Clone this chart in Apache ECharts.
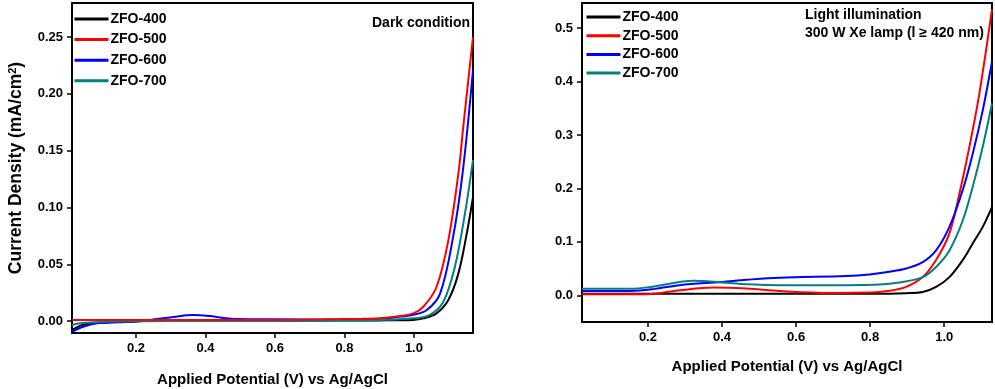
<!DOCTYPE html>
<html>
<head>
<meta charset="utf-8">
<script src="https://cdn.jsdelivr.net/npm/echarts@6/dist/echarts.min.js"></script>
<style>
html,body{margin:0;padding:0;background:#fff;}
#c{width:995px;height:389px;}
</style>
</head>
<body>
<div id="c"></div>
<script>
// ---------- data ----------
const seriesNames = ['ZFO-400', 'ZFO-500', 'ZFO-600', 'ZFO-700'];
const seriesColors = ['#000000', '#ff0000', '#0000ff', '#008080'];

const xTicks = [0.2, 0.4, 0.6, 0.8, 1.0];
const darkYTicks = [0, 0.05, 0.10, 0.15, 0.20, 0.25];
const lightYTicks = [0, 0.1, 0.2, 0.3, 0.4, 0.5];

// Dark condition (left panel)
const dark400X = [0.016, 0.04, 0.07, 0.12, 0.2, 0.4, 0.6, 0.8, 0.9, 0.95, 0.998, 1.027, 1.065, 1.099, 1.128, 1.152, 1.17];
const dark400Y = [-0.008, -0.004, -0.002, -0.001, 0, 0.0005, 0.0005, 0.0005, 0.0006, 0.0007, 0.001, 0.0024, 0.0068, 0.0185, 0.042, 0.077, 0.109];
const dark500X = [0.016, 0.1, 0.2, 0.4, 0.6, 0.75, 0.85, 0.902, 0.95, 0.998, 1.027, 1.065, 1.099, 1.128, 1.142, 1.17];
const dark500Y = [0.001, 0.001, 0.001, 0.001, 0.001, 0.0015, 0.002, 0.0024, 0.004, 0.0068, 0.0126, 0.030, 0.071, 0.130, 0.171, 0.250];
const dark600X = [0.016, 0.048, 0.087, 0.155, 0.2, 0.25, 0.298, 0.365, 0.413, 0.442, 0.49, 0.577, 0.8, 0.9, 0.95, 0.998, 1.037, 1.075, 1.111, 1.140, 1.17];
const dark600Y = [-0.0094, -0.005, -0.002, -0.001, -0.0006, 0.0015, 0.0032, 0.0053, 0.0044, 0.0032, 0.0018, 0.0015, 0.0012, 0.002, 0.0035, 0.0055, 0.0097, 0.024, 0.071, 0.130, 0.221];
const dark700X = [0.016, 0.04, 0.08, 0.15, 0.3, 0.6, 0.8, 0.9, 0.998, 1.046, 1.084, 1.118, 1.147, 1.17];
const dark700Y = [-0.0035, -0.002, -0.001, -0.0003, 0, 0, 0.0005, 0.001, 0.0024, 0.0055, 0.0165, 0.048, 0.095, 0.142];

// Light illumination (right panel)
const light400X = [0.022, 0.2, 0.4, 0.6, 0.8, 0.897, 0.942, 0.978, 1.014, 1.050, 1.077, 1.104, 1.129];
const light400Y = [0.003, 0.003, 0.003, 0.003, 0.003, 0.004, 0.006, 0.0156, 0.034, 0.066, 0.097, 0.128, 0.165];
const light500X = [0.022, 0.1, 0.197, 0.286, 0.376, 0.466, 0.556, 0.696, 0.8, 0.852, 0.897, 0.942, 0.978, 1.014, 1.041, 1.068, 1.095, 1.129];
const light500Y = [0.002, 0.002, 0.002, 0.0094, 0.0144, 0.0125, 0.008, 0.0045, 0.005, 0.0085, 0.0156, 0.034, 0.066, 0.116, 0.190, 0.278, 0.378, 0.535];
const light600X = [0.022, 0.152, 0.22, 0.286, 0.4, 0.466, 0.556, 0.736, 0.798, 0.852, 0.897, 0.942, 0.978, 1.014, 1.050, 1.077, 1.104, 1.129];
const light600Y = [0.008, 0.008, 0.012, 0.019, 0.025, 0.029, 0.033, 0.036, 0.039, 0.044, 0.050, 0.062, 0.084, 0.128, 0.197, 0.265, 0.346, 0.437];
const light700X = [0.022, 0.152, 0.22, 0.322, 0.4, 0.466, 0.556, 0.736, 0.825, 0.879, 0.942, 0.978, 1.014, 1.050, 1.077, 1.104, 1.129];
const light700Y = [0.012, 0.012, 0.017, 0.027, 0.024, 0.0206, 0.019, 0.019, 0.020, 0.024, 0.034, 0.053, 0.084, 0.140, 0.203, 0.278, 0.359];

// ---------- build ----------
const FONT = '"Liberation Sans", Arial, sans-serif';
function pairs(xs, ys) { return xs.map((x, i) => [x, ys[i]]); }

const darkData = [pairs(dark400X, dark400Y), pairs(dark500X, dark500Y), pairs(dark600X, dark600Y), pairs(dark700X, dark700Y)];
const lightData = [pairs(light400X, light400Y), pairs(light500X, light500Y), pairs(light600X, light600Y), pairs(light700X, light700Y)];

function xAxis(gi, min, max, gap) {
  return {
    type: 'value', gridIndex: gi, min: min, max: max,
    name: 'Applied Potential (V) vs Ag/AgCl', nameLocation: 'middle', nameGap: gap,
    nameTextStyle: { fontFamily: FONT, fontWeight: 'bold', fontSize: 15, color: '#000' },
    axisLine: { onZero: false, lineStyle: { color: '#000', width: 2 } },
    axisTick: { customValues: xTicks, length: 5, lineStyle: { color: '#000', width: 1.5 } },
    axisLabel: { customValues: xTicks, margin: 9, fontFamily: FONT, fontWeight: 'bold', fontSize: 13, color: '#000',
      formatter: v => v.toFixed(1) },
    splitLine: { show: false }
  };
}
function yAxis(gi, min, max, ticks, dec, name) {
  return {
    type: 'value', gridIndex: gi, min: min, max: max,
    name: name, nameLocation: 'middle', nameGap: 46,
    nameTextStyle: { fontFamily: FONT, fontWeight: 'bold', fontSize: 17.5, color: '#000',
      rich: { sup: { fontFamily: FONT, fontWeight: 'bold', fontSize: 11, color: '#000', verticalAlign: 'top', padding: [0, 0, 8, 0] } } },
    axisLine: { onZero: false, lineStyle: { color: '#000', width: 2 } },
    axisTick: { customValues: ticks, length: 5, lineStyle: { color: '#000', width: 1.5 } },
    axisLabel: { customValues: ticks, margin: 9, fontFamily: FONT, fontWeight: 'bold', fontSize: 13, color: '#000',
      formatter: v => v.toFixed(dec) },
    splitLine: { show: false }
  };
}

const series = [];
seriesNames.forEach((n, i) => {
  series.push({ name: n, type: 'line', xAxisIndex: 0, yAxisIndex: 0, data: darkData[i], symbol: 'none', showSymbol: false,
    smooth: 0.35, lineStyle: { color: seriesColors[i], width: 2 }, itemStyle: { color: seriesColors[i] }, z: 3 + (i === 1 ? 1 : 0) });
  series.push({ name: n, type: 'line', xAxisIndex: 1, yAxisIndex: 1, data: lightData[i], symbol: 'none', showSymbol: false,
    smooth: 0.35, lineStyle: { color: seriesColors[i], width: 2 }, itemStyle: { color: seriesColors[i] }, z: 3 });
});

function legend(left, top, gap) {
  return {
    data: seriesNames, orient: 'vertical', left: left, top: top, itemWidth: 34, itemHeight: 14, itemGap: gap,
    selectedMode: false,
    itemStyle: { opacity: 0 },
    lineStyle: { width: 3 },
    textStyle: { fontFamily: FONT, fontWeight: 'bold', fontSize: 14, color: '#000', padding: [0, 0, 0, -3] }
  };
}

const option = {
  animation: false,
  backgroundColor: '#fff',
  grid: [
    { left: 72, right: 522, top: 3, bottom: 56, outerBoundsMode: 'none', containLabel: false, show: true, borderColor: '#000', borderWidth: 2, backgroundColor: 'transparent' },
    { left: 582, right: 3, top: 3, bottom: 67, outerBoundsMode: 'none', containLabel: false, show: true, borderColor: '#000', borderWidth: 2, backgroundColor: 'transparent' }
  ],
  xAxis: [xAxis(0, 0.016, 1.17, 39), xAxis(1, 0.022, 1.129, 37)],
  yAxis: [
    yAxis(0, -0.0105, 0.28, darkYTicks, 2, 'Current Density (mA/cm{sup|2})'),
    Object.assign(yAxis(1, -0.05, 0.547, lightYTicks, 1, ''), { name: '' })
  ],
  legend: [legend(68, 7, 6.6), legend(580, 5, 4.7)],
  graphic: [
    { type: 'text', right: 995 - 470, top: 16, style: { text: 'Dark condition', font: 'bold 14px ' + FONT, fill: '#000' } },
    { type: 'text', left: 805, top: 8, style: { text: 'Light illumination', font: 'bold 14px ' + FONT, fill: '#000' } },
    { type: 'text', left: 805, top: 26, style: { text: '300 W Xe lamp (l \u2265 420 nm)', font: 'bold 14px ' + FONT, fill: '#000' } }
  ],
  series: series
};

const chart = echarts.init(document.getElementById('c'), null, { renderer: 'canvas' });
chart.setOption(option);
</script>
</body>
</html>
